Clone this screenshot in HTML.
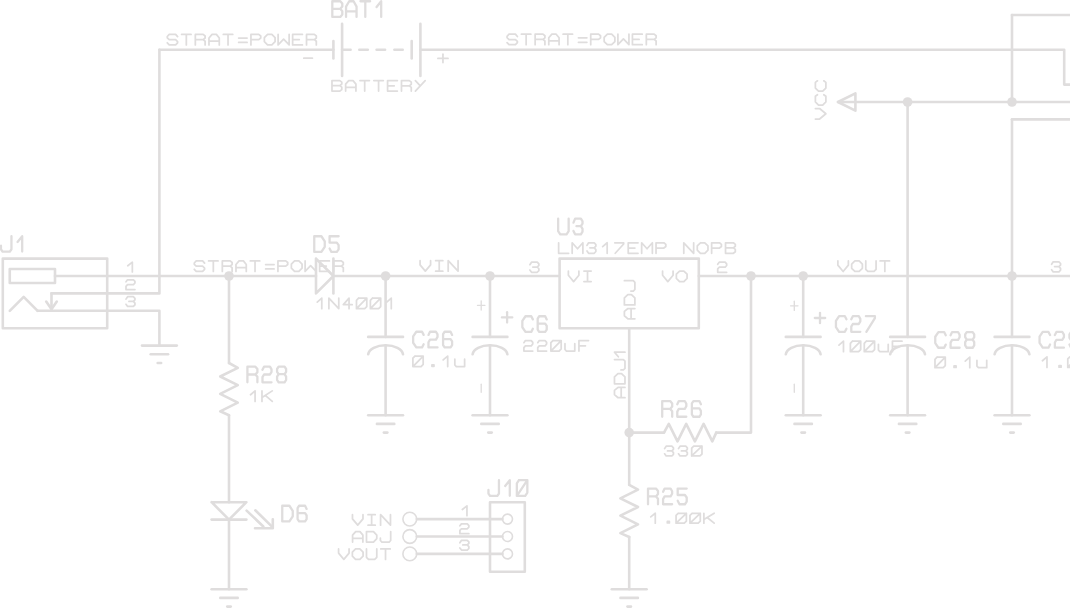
<!DOCTYPE html>
<html><head><meta charset="utf-8"><title>Schematic</title>
<style>
html,body{margin:0;padding:0;background:#ffffff;width:1070px;height:608px;overflow:hidden;font-family:"Liberation Sans",sans-serif;}
svg{display:block;}
</style></head><body>
<svg width="1070" height="608" viewBox="0 0 1070 608">
<rect width="1070" height="608" fill="#ffffff"/>
<g fill="none" stroke="#dfdddd" stroke-width="2.6" stroke-linecap="round" stroke-linejoin="round">
<path d="M159.4 49.8 L333.4 49.8"/>
<path d="M420.4 49.8 L1064.2 49.8 L1064.2 84.6 L1075 84.6"/>
<path d="M333.4 41.1 L333.4 58.5"/>
<path d="M342.1 23.7 L342.1 75.9"/>
<path d="M411.7 41.1 L411.7 58.5"/>
<path d="M420.4 23.7 L420.4 75.9"/>
<path d="M342.1 49.8 L350.6 49.8"/>
<path d="M359.3 49.8 L367.8 49.8"/>
<path d="M376.6 49.8 L385.1 49.8"/>
<path d="M394.4 49.8 L402.7 49.8"/>
<path d="M159.4 49.8 L159.4 293.4 L51.5 293.4"/>
<path d="M51.5 293.4 L51.5 309.3"/>
<path d="M46.2 301.6 L51.5 309.3 L56.8 301.6"/>
<path d="M37.6 310.8 L159.4 310.8 L159.4 345.6"/>
<path d="M2.8 258.6 L107.2 258.6 L107.2 328.2 L2.8 328.2 L2.8 258.6"/>
<path d="M9.76 269.04 L55 269.04 L55 282.96 L9.76 282.96 L9.76 269.04"/>
<path d="M9.76 310.8 L23.68 296.88 L37.6 310.8"/>
<path d="M142 345.6 L176.8 345.6"/>
<path d="M150.7 354.3 L168.1 354.3"/>
<path d="M157.66 363 L161.14 363"/>
<path d="M55 276 L316 276"/>
<path d="M333.4 276 L559.6 276"/>
<path d="M698.8 276 L1075 276"/>
<path d="M316 258.6 L316 293.4 L333.4 276 L316 258.6"/>
<path d="M333.4 258.6 L333.4 293.4"/>
<path d="M229 276 L229 363"/>
<path d="M229 363 L237.8 367.8 L220.2 376.5 L237.8 385.2 L220.2 393.9 L237.8 402.6 L220.2 411.3 L229 415.23"/>
<path d="M229 415.2 L229 502.2"/>
<path d="M211.6 502.2 L246.4 502.2 L229 519.6 L211.6 502.2"/>
<path d="M211.6 519.6 L246.4 519.6"/>
<path d="M229 519.6 L229 589.2"/>
<path d="M211.6 589.2 L246.4 589.2"/>
<path d="M220.3 597.9 L237.7 597.9"/>
<path d="M227.26 606.6 L230.74 606.6"/>
<path d="M246.6 510.6 L263.3 526.5"/>
<path d="M255.3 510.3 L272 526.6"/>
<path d="M255 528.2 L272.8 528.2 L272.8 519.3"/>
<path d="M385.6 276 L385.6 336.9"/>
<path d="M368.2 336.9 L403 336.9"/>
<path d="M368.2 354.3 A17.45 9.8 0 0 1 403 354.3"/>
<path d="M385.6 345.6 L385.6 415.2"/>
<path d="M368.2 415.2 L403 415.2"/>
<path d="M376.9 423.9 L394.3 423.9"/>
<path d="M383.86 432.6 L387.34 432.6"/>
<path d="M490 276 L490 336.9"/>
<path d="M472.6 336.9 L507.4 336.9"/>
<path d="M472.6 354.3 A17.45 9.8 0 0 1 507.4 354.3"/>
<path d="M490 345.6 L490 415.2"/>
<path d="M472.6 415.2 L507.4 415.2"/>
<path d="M481.3 423.9 L498.7 423.9"/>
<path d="M488.26 432.6 L491.74 432.6"/>
<path d="M803.2 276 L803.2 336.9"/>
<path d="M785.8 336.9 L820.6 336.9"/>
<path d="M785.8 354.3 A17.45 9.8 0 0 1 820.6 354.3"/>
<path d="M803.2 345.6 L803.2 415.2"/>
<path d="M785.8 415.2 L820.6 415.2"/>
<path d="M794.5 423.9 L811.9 423.9"/>
<path d="M801.46 432.6 L804.94 432.6"/>
<path d="M907.6 102 L907.6 336.9"/>
<path d="M890.2 336.9 L925 336.9"/>
<path d="M890.2 354.3 A17.45 9.8 0 0 1 925 354.3"/>
<path d="M907.6 345.6 L907.6 415.2"/>
<path d="M890.2 415.2 L925 415.2"/>
<path d="M898.9 423.9 L916.3 423.9"/>
<path d="M905.86 432.6 L909.34 432.6"/>
<path d="M1012 119.4 L1012 336.9"/>
<path d="M994.6 336.9 L1029.4 336.9"/>
<path d="M994.6 354.3 A17.45 9.8 0 0 1 1029.4 354.3"/>
<path d="M1012 345.6 L1012 415.2"/>
<path d="M994.6 415.2 L1029.4 415.2"/>
<path d="M1003.3 423.9 L1020.7 423.9"/>
<path d="M1010.26 432.6 L1013.74 432.6"/>
<path d="M559.6 258.6 L698.8 258.6 L698.8 328.2 L559.6 328.2 L559.6 258.6"/>
<path d="M629.2 328.2 L629.2 484.8"/>
<path d="M629.2 484.8 L638 489.6 L620.4 498.3 L638 507 L620.4 515.7 L638 524.4 L620.4 533.1 L629.2 537.03"/>
<path d="M629.2 537 L629.2 589.2"/>
<path d="M611.8 589.2 L646.6 589.2"/>
<path d="M620.5 597.9 L637.9 597.9"/>
<path d="M627.46 606.6 L630.94 606.6"/>
<path d="M629.2 432.6 L664 432.6"/>
<path d="M664 432.6 L668.8 423.8 L677.5 441.4 L686.2 423.8 L694.9 441.4 L703.6 423.8 L712.3 441.4 L716.23 432.6"/>
<path d="M716.2 432.6 L751 432.6 L751 276"/>
<path d="M838 102 L1075 102"/>
<path d="M838 102 L855.4 93.3 L855.4 110.7 L838 102"/>
<path d="M1012 15 L1075 15"/>
<path d="M1012 15 L1012 102"/>
<path d="M1075 119.4 L1012 119.4"/>
<path d="M490 502.2 L524.8 502.2 L524.8 571.8 L490 571.8 L490 502.2"/>
<path d="M416.8 519.1 L502.4 519.1"/>
<circle cx="409.8" cy="519.1" r="6.9" fill="none" stroke-width="1.6"/>
<circle cx="507.5" cy="519.1" r="5" fill="none" stroke-width="1.6"/>
<path d="M416.8 536.5 L502.4 536.5"/>
<circle cx="409.8" cy="536.5" r="6.9" fill="none" stroke-width="1.6"/>
<circle cx="507.5" cy="536.5" r="5" fill="none" stroke-width="1.6"/>
<path d="M416.8 553.9 L502.4 553.9"/>
<circle cx="409.8" cy="553.9" r="6.9" fill="none" stroke-width="1.6"/>
<circle cx="507.5" cy="553.9" r="5" fill="none" stroke-width="1.6"/>
<circle cx="229" cy="276" r="4.8" fill="#dfdddd" stroke="none"/>
<circle cx="385.6" cy="276" r="4.8" fill="#dfdddd" stroke="none"/>
<circle cx="490" cy="276" r="4.8" fill="#dfdddd" stroke="none"/>
<circle cx="751" cy="276" r="4.8" fill="#dfdddd" stroke="none"/>
<circle cx="803.2" cy="276" r="4.8" fill="#dfdddd" stroke="none"/>
<circle cx="1012" cy="276" r="4.8" fill="#dfdddd" stroke="none"/>
<circle cx="629.2" cy="432.6" r="4.8" fill="#dfdddd" stroke="none"/>
<circle cx="907.6" cy="102" r="4.8" fill="#dfdddd" stroke="none"/>
<circle cx="1012" cy="102" r="4.8" fill="#dfdddd" stroke="none"/>
<path d="M303.8 58.2 L312.4 58.2" stroke-width="1.75"/>
<path d="M437.9 58.4 L448 58.4" stroke-width="1.75"/>
<path d="M442.95 54.2 L442.95 62.6" stroke-width="1.75"/>
<path d="M477.5 305.4 L484.9 305.4" stroke-width="1.35"/>
<path d="M481.2 300.8 L481.2 310" stroke-width="1.35"/>
<path d="M790.6 305.8 L798 305.8" stroke-width="1.35"/>
<path d="M794.3 301.2 L794.3 310.4" stroke-width="1.35"/>
<path d="M501.9 317.4 L512.3 317.4" stroke-width="2.3"/>
<path d="M507.1 312.2 L507.1 322.6" stroke-width="2.3"/>
<path d="M814.8 318 L825.2 318" stroke-width="2.3"/>
<path d="M820 312.8 L820 323.2" stroke-width="2.3"/>
<path d="M481.2 384.2 L481.2 392.2" stroke-width="1.35"/>
<path d="M794.3 384.2 L794.3 392.2" stroke-width="1.35"/>
</g>
<g fill="none" stroke="#dfdddd" stroke-linecap="round" stroke-linejoin="round">
<path transform="translate(166.4 33.5)" stroke-width="1.75" d="M11.18 3.19 L9.22 0.88 L2.83 0.88 L0.88 2.98 L0.88 4.34 L2.83 6.23 L9.22 6.23 L11.18 8.12 L11.18 9.28 L9.22 11.38 L2.83 11.38 L0.88 9.28 M15.19 0.88 L24.66 0.88 M19.93 0.88 L19.93 11.38 M28.93 11.38 L28.93 0.88 L36.76 0.88 L38.72 2.45 L38.72 4.55 L36.76 6.12 L28.93 6.12 M36.76 6.12 L38.72 7.7 L38.72 11.38 M42.58 11.38 L42.58 4.45 L45.67 0.88 L49.99 0.88 L52.88 4.45 L52.88 11.38 M42.58 7.59 L52.88 7.59 M56.89 0.88 L66.36 0.88 M61.62 0.88 L61.62 11.38 M72.23 4.55 L80.67 4.55 M72.23 8.96 L80.67 8.96 M84.53 11.38 L84.53 0.88 L92.36 0.88 L94.32 2.45 L94.32 4.55 L92.36 6.12 L84.53 6.12 M101.18 0.88 L105.47 0.88 L108.68 4.03 L108.68 8.22 L105.47 11.38 L101.18 11.38 L97.97 8.22 L97.97 4.03 L101.18 0.88 M111.71 0.88 L111.71 11.38 L117.22 5.6 L122.74 11.38 L122.74 0.88 M136.02 0.88 L126.23 0.88 L126.23 11.38 L136.02 11.38 M126.23 6.12 L132.89 6.12 M140.13 11.38 L140.13 0.88 L147.96 0.88 L149.92 2.45 L149.92 4.55 L147.96 6.12 L140.13 6.12 M147.96 6.12 L149.92 7.7 L149.92 11.38"/>
<path transform="translate(506.2 33.3)" stroke-width="1.75" d="M11.18 3.19 L9.22 0.88 L2.83 0.88 L0.88 2.98 L0.88 4.34 L2.83 6.23 L9.22 6.23 L11.18 8.12 L11.18 9.28 L9.22 11.38 L2.83 11.38 L0.88 9.28 M15.19 0.88 L24.66 0.88 M19.93 0.88 L19.93 11.38 M28.93 11.38 L28.93 0.88 L36.76 0.88 L38.72 2.45 L38.72 4.55 L36.76 6.12 L28.93 6.12 M36.76 6.12 L38.72 7.7 L38.72 11.38 M42.58 11.38 L42.58 4.45 L45.67 0.88 L49.99 0.88 L52.88 4.45 L52.88 11.38 M42.58 7.59 L52.88 7.59 M56.89 0.88 L66.36 0.88 M61.62 0.88 L61.62 11.38 M72.23 4.55 L80.67 4.55 M72.23 8.96 L80.67 8.96 M84.53 11.38 L84.53 0.88 L92.36 0.88 L94.32 2.45 L94.32 4.55 L92.36 6.12 L84.53 6.12 M101.18 0.88 L105.47 0.88 L108.68 4.03 L108.68 8.22 L105.47 11.38 L101.18 11.38 L97.97 8.22 L97.97 4.03 L101.18 0.88 M111.71 0.88 L111.71 11.38 L117.22 5.6 L122.74 11.38 L122.74 0.88 M136.02 0.88 L126.23 0.88 L126.23 11.38 L136.02 11.38 M126.23 6.12 L132.89 6.12 M140.13 11.38 L140.13 0.88 L147.96 0.88 L149.92 2.45 L149.92 4.55 L147.96 6.12 L140.13 6.12 M147.96 6.12 L149.92 7.7 L149.92 11.38"/>
<path transform="translate(330.9 0.1)" stroke-width="2.3" d="M1.41 1.15 L9.39 1.15 L11.39 3.5 L11.39 6.33 L9.39 8.69 L1.41 8.69 M9.39 8.69 L11.39 11.04 L11.39 14.49 L9.39 16.85 L1.41 16.85 L1.41 1.15 M15.15 16.85 L15.15 6.49 L18.3 1.15 L22.71 1.15 L25.65 6.49 L25.65 16.85 M15.15 11.2 L25.65 11.2 M29.57 1.15 L39.23 1.15 M34.4 1.15 L34.4 16.85 M45.67 6.96 L50.29 1.15 L50.29 16.85"/>
<path transform="translate(330.85 79.7)" stroke-width="1.75" d="M1.13 0.88 L8.96 0.88 L10.92 2.45 L10.92 4.34 L8.96 5.92 L1.13 5.92 M8.96 5.92 L10.92 7.49 L10.92 9.8 L8.96 11.38 L1.13 11.38 L1.13 0.88 M14.78 11.38 L14.78 4.45 L17.87 0.88 L22.19 0.88 L25.08 4.45 L25.08 11.38 M14.78 7.59 L25.08 7.59 M29.09 0.88 L38.56 0.88 M33.83 0.88 L33.83 11.38 M42.99 0.88 L52.46 0.88 M47.73 0.88 L47.73 11.38 M66.52 0.88 L56.73 0.88 L56.73 11.38 L66.52 11.38 M56.73 6.12 L63.39 6.12 M70.63 11.38 L70.63 0.88 L78.46 0.88 L80.42 2.45 L80.42 4.55 L78.46 6.12 L70.63 6.12 M78.46 6.12 L80.42 7.7 L80.42 11.38 M94.32 0.88 L84.53 11.38 M84.53 0.88 L89.42 6.12"/>
<path transform="translate(-0.2 235.1)" stroke-width="2.3" d="M1.15 10.64 L1.15 14.16 L2.72 16.45 L10.07 16.45 L11.65 14.16 L11.65 1.15 M17.77 6.81 L22.39 1.15 L22.39 16.45"/>
<path transform="translate(124.4 261.3)" stroke-width="1.75" d="M3.37 4.5 L7.95 0.88 L7.95 10.68"/>
<path transform="translate(124.4 278.9)" stroke-width="1.75" d="M1.6 2.83 L3.12 0.88 L9.03 0.88 L10.55 2.54 L10.55 4.11 L9.03 5.78 L3.12 5.78 L1.6 7.44 L1.6 10.68 L10.55 10.68"/>
<path transform="translate(124.4 295.8)" stroke-width="1.75" d="M1.6 3.33 L3.21 0.88 L8.94 0.88 L10.55 2.54 L10.55 4.01 L8.94 5.58 L4.55 5.58 M8.94 5.58 L10.55 7.25 L10.55 9.01 L8.94 10.68 L3.21 10.68 L1.6 8.52"/>
<path transform="translate(193.4 260)" stroke-width="1.75" d="M11.18 3.19 L9.22 0.88 L2.83 0.88 L0.88 2.98 L0.88 4.34 L2.83 6.23 L9.22 6.23 L11.18 8.12 L11.18 9.28 L9.22 11.38 L2.83 11.38 L0.88 9.28 M15.19 0.88 L24.66 0.88 M19.93 0.88 L19.93 11.38 M28.93 11.38 L28.93 0.88 L36.76 0.88 L38.72 2.45 L38.72 4.55 L36.76 6.12 L28.93 6.12 M36.76 6.12 L38.72 7.7 L38.72 11.38 M42.58 11.38 L42.58 4.45 L45.67 0.88 L49.99 0.88 L52.88 4.45 L52.88 11.38 M42.58 7.59 L52.88 7.59 M56.89 0.88 L66.36 0.88 M61.62 0.88 L61.62 11.38 M72.23 4.55 L80.67 4.55 M72.23 8.96 L80.67 8.96 M84.53 11.38 L84.53 0.88 L92.36 0.88 L94.32 2.45 L94.32 4.55 L92.36 6.12 L84.53 6.12 M101.18 0.88 L105.47 0.88 L108.68 4.03 L108.68 8.22 L105.47 11.38 L101.18 11.38 L97.97 8.22 L97.97 4.03 L101.18 0.88 M111.71 0.88 L111.71 11.38 L117.22 5.6 L122.74 11.38 L122.74 0.88 M136.02 0.88 L126.23 0.88 L126.23 11.38 L136.02 11.38 M126.23 6.12 L132.89 6.12 M140.13 11.38 L140.13 0.88 L147.96 0.88 L149.92 2.45 L149.92 4.55 L147.96 6.12 L140.13 6.12 M147.96 6.12 L149.92 7.7 L149.92 11.38"/>
<path transform="translate(313.1 235.1)" stroke-width="2.3" d="M1.15 1.15 L8.29 1.15 L11.65 6.33 L11.65 11.67 L8.29 16.85 L1.15 16.85 L1.15 1.15 M25.52 1.15 L16.48 1.15 L16.48 7.59 L23.71 7.59 L25.52 10.1 L25.52 14.18 L23.71 16.85 L18.29 16.85 L16.48 13.4"/>
<path transform="translate(313.9 297.3)" stroke-width="1.75" d="M3.35 4.76 L7.88 0.88 L7.88 11.38 M14.98 11.38 L14.98 0.88 L24.87 11.38 L24.87 0.88 M35.15 11.38 L35.15 0.88 L29.4 7.38 L38.25 7.38 M44.64 0.88 L52.88 0.88 L52.88 9.28 L50.82 11.38 L42.58 11.38 L42.58 2.98 L44.64 0.88 M42.58 11.38 L52.88 0.88 M58.54 0.88 L66.78 0.88 L66.78 9.28 L64.72 11.38 L56.48 11.38 L56.48 2.98 L58.54 0.88 M56.48 11.38 L66.78 0.88 M72.85 4.76 L77.38 0.88 L77.38 11.38"/>
<path transform="translate(419.3 259.8)" stroke-width="1.75" d="M0.77 0.88 L0.77 5.08 L6.03 11.38 L11.28 5.08 L11.28 0.88 M16.32 0.88 L23.53 0.88 M19.93 0.88 L19.93 11.38 M16.32 11.38 L23.53 11.38 M28.88 11.38 L28.88 0.88 L38.77 11.38 L38.77 0.88"/>
<path transform="translate(528.3 261.3)" stroke-width="1.75" d="M1.6 3.4 L3.21 0.88 L8.94 0.88 L10.55 2.59 L10.55 4.11 L8.94 5.72 L4.55 5.72 M8.94 5.72 L10.55 7.44 L10.55 9.26 L8.94 10.97 L3.21 10.97 L1.6 8.75"/>
<path transform="translate(557 217.5)" stroke-width="2.3" d="M1.15 1.15 L1.15 13.71 L3.25 16.85 L9.55 16.85 L11.65 13.71 L11.65 1.15 M16.48 5.07 L18.11 1.15 L23.89 1.15 L25.52 3.82 L25.52 6.17 L23.89 8.69 L19.46 8.69 M23.89 8.69 L25.52 11.36 L25.52 14.18 L23.89 16.85 L18.11 16.85 L16.48 13.4"/>
<path transform="translate(557.6 241.9)" stroke-width="1.75" d="M1.03 0.88 L1.03 11.38 L11.02 11.38 M14.57 11.38 L14.57 0.88 L19.93 6.86 L25.28 0.88 L25.28 11.38 M29.4 3.5 L30.99 0.88 L36.66 0.88 L38.25 2.66 L38.25 4.23 L36.66 5.92 L32.32 5.92 M36.66 5.92 L38.25 7.7 L38.25 9.59 L36.66 11.38 L30.99 11.38 L29.4 9.06 M45.05 4.76 L49.58 0.88 L49.58 11.38 M57.2 0.88 L66.05 0.88 L66.05 2.13 L57.64 11.38 M80.42 0.88 L70.63 0.88 L70.63 11.38 L80.42 11.38 M70.63 6.12 L77.29 6.12 M84.07 11.38 L84.07 0.88 L89.42 6.86 L94.78 0.88 L94.78 11.38 M98.43 11.38 L98.43 0.88 L106.26 0.88 L108.22 2.45 L108.22 4.55 L106.26 6.12 L98.43 6.12 M126.18 11.38 L126.18 0.88 L136.07 11.38 L136.07 0.88 M142.88 0.88 L147.17 0.88 L150.38 4.03 L150.38 8.22 L147.17 11.38 L142.88 11.38 L139.67 8.22 L139.67 4.03 L142.88 0.88 M154.03 11.38 L154.03 0.88 L161.86 0.88 L163.82 2.45 L163.82 4.55 L161.86 6.12 L154.03 6.12 M167.93 0.88 L175.76 0.88 L177.72 2.45 L177.72 4.34 L175.76 5.92 L167.93 5.92 M175.76 5.92 L177.72 7.49 L177.72 9.8 L175.76 11.38 L167.93 11.38 L167.93 0.88"/>
<path transform="translate(567.6 270.2)" stroke-width="1.75" d="M0.77 0.88 L0.77 5.08 L6.03 11.38 L11.28 5.08 L11.28 0.88 M16.32 0.88 L23.53 0.88 M19.93 0.88 L19.93 11.38 M16.32 11.38 L23.53 11.38"/>
<path transform="translate(661.8 270.2)" stroke-width="1.75" d="M0.77 0.88 L0.77 5.08 L6.03 11.38 L11.28 5.08 L11.28 0.88 M17.78 0.88 L22.07 0.88 L25.28 4.03 L25.28 8.22 L22.07 11.38 L17.78 11.38 L14.57 8.22 L14.57 4.03 L17.78 0.88"/>
<path transform="translate(716.1 261.3)" stroke-width="1.75" d="M1.6 2.9 L3.12 0.88 L9.03 0.88 L10.55 2.59 L10.55 4.21 L9.03 5.92 L3.12 5.92 L1.6 7.64 L1.6 10.97 L10.55 10.97"/>
<path transform="translate(837.1 260.1)" stroke-width="1.75" d="M0.77 0.88 L0.77 5.08 L6.03 11.38 L11.28 5.08 L11.28 0.88 M17.78 0.88 L22.07 0.88 L25.28 4.03 L25.28 8.22 L22.07 11.38 L17.78 11.38 L14.57 8.22 L14.57 4.03 L17.78 0.88 M28.68 0.88 L28.68 9.28 L30.73 11.38 L36.91 11.38 L38.98 9.28 L38.98 0.88 M42.99 0.88 L52.46 0.88 M47.73 0.88 L47.73 11.38"/>
<path transform="translate(1050 260.9)" stroke-width="1.75" d="M1.6 3.4 L3.21 0.88 L8.94 0.88 L10.55 2.59 L10.55 4.11 L8.94 5.72 L4.55 5.72 M8.94 5.72 L10.55 7.44 L10.55 9.26 L8.94 10.97 L3.21 10.97 L1.6 8.75"/>
<path transform="translate(246 365.5)" stroke-width="2.3" d="M1.41 16.85 L1.41 1.15 L9.39 1.15 L11.39 3.5 L11.39 6.64 L9.39 9 L1.41 9 M9.39 9 L11.39 11.36 L11.39 16.85 M16.48 4.29 L18.02 1.15 L23.98 1.15 L25.52 3.82 L25.52 6.33 L23.98 9 L18.02 9 L16.48 11.67 L16.48 16.85 L25.52 16.85 M32.62 8.69 L31.08 6.33 L31.08 3.5 L32.62 1.15 L38.58 1.15 L40.11 3.5 L40.11 6.33 L38.58 8.69 L32.62 8.69 L31.08 11.2 L31.08 14.49 L32.62 16.85 L38.58 16.85 L40.11 14.49 L40.11 11.2 L38.58 8.69"/>
<path transform="translate(247.2 390)" stroke-width="1.75" d="M3.35 4.76 L7.88 0.88 L7.88 11.38 M14.78 0.88 L14.78 11.38 M25.08 0.88 L14.78 7.49 M18.07 5.39 L25.08 11.38"/>
<path transform="translate(281.1 504.6)" stroke-width="2.3" d="M1.15 1.15 L8.29 1.15 L11.65 6.33 L11.65 11.67 L8.29 16.85 L1.15 16.85 L1.15 1.15 M25.52 4.29 L23.98 1.15 L18.02 1.15 L16.48 3.5 L16.48 14.49 L18.02 16.85 L23.98 16.85 L25.52 14.49 L25.52 10.88 L23.98 8.53 L16.48 8.53"/>
<path transform="translate(412 330.6)" stroke-width="2.3" d="M11.65 4.29 L10.07 1.15 L4.3 1.15 L1.15 5.86 L1.15 12.14 L4.3 16.85 L10.07 16.85 L11.65 13.71 M16.48 4.29 L18.02 1.15 L23.98 1.15 L25.52 3.82 L25.52 6.33 L23.98 9 L18.02 9 L16.48 11.67 L16.48 16.85 L25.52 16.85 M40.11 4.29 L38.58 1.15 L32.62 1.15 L31.08 3.5 L31.08 14.49 L32.62 16.85 L38.58 16.85 L40.11 14.49 L40.11 10.88 L38.58 8.53 L31.08 8.53"/>
<path transform="translate(412 355.2)" stroke-width="1.75" d="M2.94 0.88 L11.18 0.88 L11.18 9.28 L9.12 11.38 L0.88 11.38 L0.88 2.98 L2.94 0.88 M0.88 11.38 L11.18 0.88 M19.93 9.59 L21.98 9.59 L21.98 11.16 L19.93 11.16 L19.93 9.59 M31.15 4.76 L35.68 0.88 L35.68 11.38 M42.83 4.03 L42.83 9.8 L44.3 11.38 L52.62 11.38 M52.62 4.03 L52.62 11.38"/>
<path transform="translate(521.2 315.1)" stroke-width="2.3" d="M11.65 4.29 L10.07 1.15 L4.3 1.15 L1.15 5.86 L1.15 12.14 L4.3 16.85 L10.07 16.85 L11.65 13.71 M25.52 4.29 L23.98 1.15 L18.02 1.15 L16.48 3.5 L16.48 14.49 L18.02 16.85 L23.98 16.85 L25.52 14.49 L25.52 10.88 L23.98 8.53 L16.48 8.53"/>
<path transform="translate(522.3 339.7)" stroke-width="1.75" d="M1.6 2.98 L3.1 0.88 L8.95 0.88 L10.45 2.66 L10.45 4.34 L8.95 6.12 L3.1 6.12 L1.6 7.91 L1.6 11.38 L10.45 11.38 M15.45 2.98 L16.95 0.88 L22.8 0.88 L24.3 2.66 L24.3 4.34 L22.8 6.12 L16.95 6.12 L15.45 7.91 L15.45 11.38 L24.3 11.38 M30.63 0.88 L38.88 0.88 L38.88 9.28 L36.81 11.38 L28.57 11.38 L28.57 2.98 L30.63 0.88 M28.57 11.38 L38.88 0.88 M42.68 4.03 L42.68 9.8 L44.15 11.38 L52.47 11.38 M52.47 4.03 L52.47 11.38 M66.21 0.88 L56.64 0.88 L56.64 11.38 M56.64 6.12 L63.15 6.12"/>
<path transform="translate(660.8 399.9)" stroke-width="2.3" d="M1.41 16.85 L1.41 1.15 L9.39 1.15 L11.39 3.5 L11.39 6.64 L9.39 9 L1.41 9 M9.39 9 L11.39 11.36 L11.39 16.85 M16.48 4.29 L18.02 1.15 L23.98 1.15 L25.52 3.82 L25.52 6.33 L23.98 9 L18.02 9 L16.48 11.67 L16.48 16.85 L25.52 16.85 M40.11 4.29 L38.58 1.15 L32.62 1.15 L31.08 3.5 L31.08 14.49 L32.62 16.85 L38.58 16.85 L40.11 14.49 L40.11 10.88 L38.58 8.53 L31.08 8.53"/>
<path transform="translate(663 445.3)" stroke-width="1.75" d="M1.6 3.33 L3.19 0.88 L8.86 0.88 L10.45 2.54 L10.45 4.01 L8.86 5.58 L4.52 5.58 M8.86 5.58 L10.45 7.25 L10.45 9.01 L8.86 10.68 L3.19 10.68 L1.6 8.52 M15.5 3.33 L17.09 0.88 L22.76 0.88 L24.35 2.54 L24.35 4.01 L22.76 5.58 L18.42 5.58 M22.76 5.58 L24.35 7.25 L24.35 9.01 L22.76 10.68 L17.09 10.68 L15.5 8.52 M30.73 0.88 L38.98 0.88 L38.98 8.71 L36.91 10.68 L28.68 10.68 L28.68 2.83 L30.73 0.88 M28.68 10.68 L38.98 0.88"/>
<path transform="translate(646.6 487.4)" stroke-width="2.3" d="M1.41 16.85 L1.41 1.15 L9.39 1.15 L11.39 3.5 L11.39 6.64 L9.39 9 L1.41 9 M9.39 9 L11.39 11.36 L11.39 16.85 M16.48 4.29 L18.02 1.15 L23.98 1.15 L25.52 3.82 L25.52 6.33 L23.98 9 L18.02 9 L16.48 11.67 L16.48 16.85 L25.52 16.85 M40.11 1.15 L31.08 1.15 L31.08 7.59 L38.31 7.59 L40.11 10.1 L40.11 14.18 L38.31 16.85 L32.89 16.85 L31.08 13.4"/>
<path transform="translate(647.4 512.4)" stroke-width="1.75" d="M3.35 4.54 L7.88 0.88 L7.88 10.78 M19.93 9.09 L21.98 9.09 L21.98 10.58 L19.93 10.58 L19.93 9.09 M30.73 0.88 L38.98 0.88 L38.98 8.8 L36.91 10.78 L28.68 10.78 L28.68 2.86 L30.73 0.88 M28.68 10.78 L38.98 0.88 M44.64 0.88 L52.88 0.88 L52.88 8.8 L50.82 10.78 L42.58 10.78 L42.58 2.86 L44.64 0.88 M42.58 10.78 L52.88 0.88 M56.48 0.88 L56.48 10.78 M66.78 0.88 L56.48 7.11 M59.77 5.13 L66.78 10.78"/>
<path transform="translate(487.3 479)" stroke-width="2.3" d="M1.15 10.88 L1.15 14.49 L2.72 16.85 L10.07 16.85 L11.65 14.49 L11.65 1.15 M17.87 6.96 L22.49 1.15 L22.49 16.85 M31.65 1.15 L40.05 1.15 L40.05 13.71 L37.95 16.85 L29.55 16.85 L29.55 4.29 L31.65 1.15 M29.55 16.85 L40.05 1.15"/>
<path transform="translate(351.7 513.8)" stroke-width="1.75" d="M0.77 0.88 L0.77 5.08 L6.03 11.38 L11.28 5.08 L11.28 0.88 M16.32 0.88 L23.53 0.88 M19.93 0.88 L19.93 11.38 M16.32 11.38 L23.53 11.38 M28.88 11.38 L28.88 0.88 L38.77 11.38 L38.77 0.88"/>
<path transform="translate(351.7 530.7)" stroke-width="1.75" d="M0.88 11.38 L0.88 4.45 L3.97 0.88 L8.29 0.88 L11.18 4.45 L11.18 11.38 M0.88 7.59 L11.18 7.59 M14.78 0.88 L21.78 0.88 L25.08 4.34 L25.08 7.91 L21.78 11.38 L14.78 11.38 L14.78 0.88 M28.68 7.38 L28.68 9.8 L30.22 11.38 L37.43 11.38 L38.98 9.8 L38.98 0.88"/>
<path transform="translate(337.8 548)" stroke-width="1.75" d="M0.77 0.88 L0.77 5.08 L6.03 11.38 L11.28 5.08 L11.28 0.88 M17.78 0.88 L22.07 0.88 L25.28 4.03 L25.28 8.22 L22.07 11.38 L17.78 11.38 L14.57 8.22 L14.57 4.03 L17.78 0.88 M28.68 0.88 L28.68 9.28 L30.73 11.38 L36.91 11.38 L38.98 9.28 L38.98 0.88 M42.99 0.88 L52.46 0.88 M47.73 0.88 L47.73 11.38"/>
<path transform="translate(459 505)" stroke-width="1.75" d="M3.37 4.5 L7.95 0.88 L7.95 10.68"/>
<path transform="translate(458.3 523)" stroke-width="1.75" d="M1.6 2.83 L3.12 0.88 L9.03 0.88 L10.55 2.54 L10.55 4.11 L9.03 5.78 L3.12 5.78 L1.6 7.44 L1.6 10.68 L10.55 10.68"/>
<path transform="translate(458.3 539.4)" stroke-width="1.75" d="M1.6 3.33 L3.21 0.88 L8.94 0.88 L10.55 2.54 L10.55 4.01 L8.94 5.58 L4.55 5.58 M8.94 5.58 L10.55 7.25 L10.55 9.01 L8.94 10.68 L3.21 10.68 L1.6 8.52"/>
<path transform="translate(834.8 315)" stroke-width="2.3" d="M11.65 4.29 L10.07 1.15 L4.3 1.15 L1.15 5.86 L1.15 12.14 L4.3 16.85 L10.07 16.85 L11.65 13.71 M16.48 4.29 L18.02 1.15 L23.98 1.15 L25.52 3.82 L25.52 6.33 L23.98 9 L18.02 9 L16.48 11.67 L16.48 16.85 L25.52 16.85 M31.08 1.15 L40.11 1.15 L40.11 3.03 L31.54 16.85"/>
<path transform="translate(835.6 340.3)" stroke-width="1.75" d="M3.35 4.76 L7.88 0.88 L7.88 11.38 M16.84 0.88 L25.08 0.88 L25.08 9.28 L23.02 11.38 L14.78 11.38 L14.78 2.98 L16.84 0.88 M14.78 11.38 L25.08 0.88 M30.73 0.88 L38.98 0.88 L38.98 9.28 L36.91 11.38 L28.68 11.38 L28.68 2.98 L30.73 0.88 M28.68 11.38 L38.98 0.88 M42.83 4.03 L42.83 9.8 L44.3 11.38 L52.62 11.38 M52.62 4.03 L52.62 11.38 M66.41 0.88 L56.84 0.88 L56.84 11.38 M56.84 6.12 L63.35 6.12"/>
<path transform="translate(934.1 330.9)" stroke-width="2.3" d="M11.65 4.29 L10.07 1.15 L4.3 1.15 L1.15 5.86 L1.15 12.14 L4.3 16.85 L10.07 16.85 L11.65 13.71 M16.48 4.29 L18.02 1.15 L23.98 1.15 L25.52 3.82 L25.52 6.33 L23.98 9 L18.02 9 L16.48 11.67 L16.48 16.85 L25.52 16.85 M32.62 8.69 L31.08 6.33 L31.08 3.5 L32.62 1.15 L38.58 1.15 L40.11 3.5 L40.11 6.33 L38.58 8.69 L32.62 8.69 L31.08 11.2 L31.08 14.49 L32.62 16.85 L38.58 16.85 L40.11 14.49 L40.11 11.2 L38.58 8.69"/>
<path transform="translate(934.1 356.3)" stroke-width="1.75" d="M2.94 0.88 L11.18 0.88 L11.18 9.28 L9.12 11.38 L0.88 11.38 L0.88 2.98 L2.94 0.88 M0.88 11.38 L11.18 0.88 M19.93 9.59 L21.98 9.59 L21.98 11.16 L19.93 11.16 L19.93 9.59 M31.15 4.76 L35.68 0.88 L35.68 11.38 M42.83 4.03 L42.83 9.8 L44.3 11.38 L52.62 11.38 M52.62 4.03 L52.62 11.38"/>
<path transform="translate(1038.4 330.8)" stroke-width="2.3" d="M11.65 4.29 L10.07 1.15 L4.3 1.15 L1.15 5.86 L1.15 12.14 L4.3 16.85 L10.07 16.85 L11.65 13.71 M16.48 4.29 L18.02 1.15 L23.98 1.15 L25.52 3.82 L25.52 6.33 L23.98 9 L18.02 9 L16.48 11.67 L16.48 16.85 L25.52 16.85 M31.08 13.71 L32.62 16.85 L38.58 16.85 L40.11 14.49 L40.11 3.5 L38.58 1.15 L32.62 1.15 L31.08 3.5 L31.08 7.12 L32.62 9.47 L40.11 9.47"/>
<path transform="translate(1039.1 356)" stroke-width="1.75" d="M3.35 4.76 L7.88 0.88 L7.88 11.38 M19.93 9.59 L21.98 9.59 L21.98 11.16 L19.93 11.16 L19.93 9.59 M30.73 0.88 L38.98 0.88 L38.98 9.28 L36.91 11.38 L28.68 11.38 L28.68 2.98 L30.73 0.88 M28.68 11.38 L38.98 0.88"/>
<path transform="translate(814.5 119.8) rotate(-90)" stroke-width="1.75" d="M0.77 0.88 L0.77 5.08 L6.03 11.38 L11.28 5.08 L11.28 0.88 M25.08 2.98 L23.53 0.88 L17.87 0.88 L14.78 4.03 L14.78 8.22 L17.87 11.38 L23.53 11.38 L25.08 9.28 M38.98 2.98 L37.43 0.88 L31.77 0.88 L28.68 4.03 L28.68 8.22 L31.77 11.38 L37.43 11.38 L38.98 9.28"/>
<path transform="translate(623.5 319.7) rotate(-90)" stroke-width="1.75" d="M0.88 11.38 L0.88 4.45 L3.97 0.88 L8.29 0.88 L11.18 4.45 L11.18 11.38 M0.88 7.59 L11.18 7.59 M14.78 0.88 L21.78 0.88 L25.08 4.34 L25.08 7.91 L21.78 11.38 L14.78 11.38 L14.78 0.88 M28.68 7.38 L28.68 9.8 L30.22 11.38 L37.43 11.38 L38.98 9.8 L38.98 0.88"/>
<path transform="translate(613.6 398.6) rotate(-90)" stroke-width="1.75" d="M0.88 11.38 L0.88 4.45 L3.97 0.88 L8.29 0.88 L11.18 4.45 L11.18 11.38 M0.88 7.59 L11.18 7.59 M14.78 0.88 L21.78 0.88 L25.08 4.34 L25.08 7.91 L21.78 11.38 L14.78 11.38 L14.78 0.88 M28.68 7.38 L28.68 9.8 L30.22 11.38 L37.43 11.38 L38.98 9.8 L38.98 0.88 M41.85 4.76 L46.38 0.88 L46.38 11.38"/>
</g>
</svg>
</body></html>
